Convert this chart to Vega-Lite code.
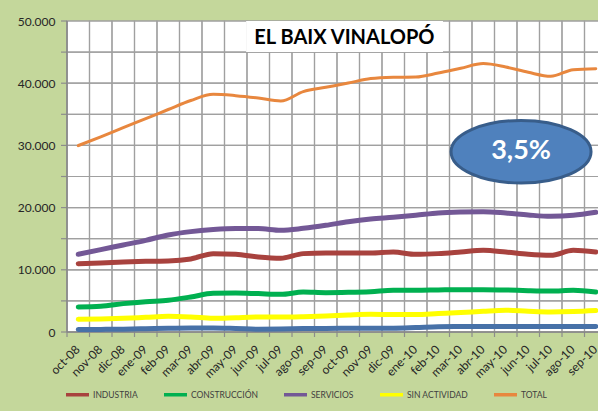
{
  "$schema": "https://vega.github.io/schema/vega-lite/v6.json",
  "autosize": {"type": "none"},
  "width": 531,
  "height": 311,
  "padding": {"left": 67, "top": 21, "right": 0, "bottom": 79},
  "background": "#c4d79b",
  "config": {
    "view": {"fill": "#ffffff", "stroke": null}
  },
  "datasets": {
    "empleo": [
      {"mes":"oct-08","serie":"TOTAL","valor":29970},{"mes":"nov-08","serie":"TOTAL","valor":31380},{"mes":"dic-08","serie":"TOTAL","valor":32860},{"mes":"ene-09","serie":"TOTAL","valor":34300},{"mes":"feb-09","serie":"TOTAL","valor":35770},{"mes":"mar-09","serie":"TOTAL","valor":37220},{"mes":"abr-09","serie":"TOTAL","valor":38220},{"mes":"may-09","serie":"TOTAL","valor":38000},{"mes":"jun-09","serie":"TOTAL","valor":37620},{"mes":"jul-09","serie":"TOTAL","valor":37140},{"mes":"ago-09","serie":"TOTAL","valor":38650},{"mes":"sep-09","serie":"TOTAL","valor":39340},{"mes":"oct-09","serie":"TOTAL","valor":40030},{"mes":"nov-09","serie":"TOTAL","valor":40740},{"mes":"dic-09","serie":"TOTAL","valor":40950},{"mes":"ene-10","serie":"TOTAL","valor":41000},{"mes":"feb-10","serie":"TOTAL","valor":41640},{"mes":"mar-10","serie":"TOTAL","valor":42400},{"mes":"abr-10","serie":"TOTAL","valor":43150},{"mes":"may-10","serie":"TOTAL","valor":42600},{"mes":"jun-10","serie":"TOTAL","valor":41750},{"mes":"jul-10","serie":"TOTAL","valor":41110},{"mes":"ago-10","serie":"TOTAL","valor":42180},{"mes":"sep-10","serie":"TOTAL","valor":42340},
      {"mes":"oct-08","serie":"SERVICIOS","valor":12490},{"mes":"nov-08","serie":"SERVICIOS","valor":13250},{"mes":"dic-08","serie":"SERVICIOS","valor":13990},{"mes":"ene-09","serie":"SERVICIOS","valor":14740},{"mes":"feb-09","serie":"SERVICIOS","valor":15600},{"mes":"mar-09","serie":"SERVICIOS","valor":16140},{"mes":"abr-09","serie":"SERVICIOS","valor":16460},{"mes":"may-09","serie":"SERVICIOS","valor":16620},{"mes":"jun-09","serie":"SERVICIOS","valor":16620},{"mes":"jul-09","serie":"SERVICIOS","valor":16350},{"mes":"ago-09","serie":"SERVICIOS","valor":16670},{"mes":"sep-09","serie":"SERVICIOS","valor":17150},{"mes":"oct-09","serie":"SERVICIOS","valor":17740},{"mes":"nov-09","serie":"SERVICIOS","valor":18170},{"mes":"dic-09","serie":"SERVICIOS","valor":18440},{"mes":"ene-10","serie":"SERVICIOS","valor":18760},{"mes":"feb-10","serie":"SERVICIOS","valor":19130},{"mes":"mar-10","serie":"SERVICIOS","valor":19290},{"mes":"abr-10","serie":"SERVICIOS","valor":19350},{"mes":"may-10","serie":"SERVICIOS","valor":19130},{"mes":"jun-10","serie":"SERVICIOS","valor":18810},{"mes":"jul-10","serie":"SERVICIOS","valor":18600},{"mes":"ago-10","serie":"SERVICIOS","valor":18760},{"mes":"sep-10","serie":"SERVICIOS","valor":19240},
      {"mes":"oct-08","serie":"INDUSTRIA","valor":10990},{"mes":"nov-08","serie":"INDUSTRIA","valor":11100},{"mes":"dic-08","serie":"INDUSTRIA","valor":11260},{"mes":"ene-09","serie":"INDUSTRIA","valor":11370},{"mes":"feb-09","serie":"INDUSTRIA","valor":11420},{"mes":"mar-09","serie":"INDUSTRIA","valor":11740},{"mes":"abr-09","serie":"INDUSTRIA","valor":12600},{"mes":"may-09","serie":"INDUSTRIA","valor":12490},{"mes":"jun-09","serie":"INDUSTRIA","valor":12060},{"mes":"jul-09","serie":"INDUSTRIA","valor":11850},{"mes":"ago-09","serie":"INDUSTRIA","valor":12600},{"mes":"sep-09","serie":"INDUSTRIA","valor":12700},{"mes":"oct-09","serie":"INDUSTRIA","valor":12700},{"mes":"nov-09","serie":"INDUSTRIA","valor":12700},{"mes":"dic-09","serie":"INDUSTRIA","valor":12860},{"mes":"ene-10","serie":"INDUSTRIA","valor":12490},{"mes":"feb-10","serie":"INDUSTRIA","valor":12600},{"mes":"mar-10","serie":"INDUSTRIA","valor":12860},{"mes":"abr-10","serie":"INDUSTRIA","valor":13140},{"mes":"may-10","serie":"INDUSTRIA","valor":12860},{"mes":"jun-10","serie":"INDUSTRIA","valor":12490},{"mes":"jul-10","serie":"INDUSTRIA","valor":12330},{"mes":"ago-10","serie":"INDUSTRIA","valor":13140},{"mes":"sep-10","serie":"INDUSTRIA","valor":12860},
      {"mes":"oct-08","serie":"CONSTRUCCIÓN","valor":4020},{"mes":"nov-08","serie":"CONSTRUCCIÓN","valor":4130},{"mes":"dic-08","serie":"CONSTRUCCIÓN","valor":4560},{"mes":"ene-09","serie":"CONSTRUCCIÓN","valor":4880},{"mes":"feb-09","serie":"CONSTRUCCIÓN","valor":5100},{"mes":"mar-09","serie":"CONSTRUCCIÓN","valor":5630},{"mes":"abr-09","serie":"CONSTRUCCIÓN","valor":6220},{"mes":"may-09","serie":"CONSTRUCCIÓN","valor":6270},{"mes":"jun-09","serie":"CONSTRUCCIÓN","valor":6170},{"mes":"jul-09","serie":"CONSTRUCCIÓN","valor":6060},{"mes":"ago-09","serie":"CONSTRUCCIÓN","valor":6430},{"mes":"sep-09","serie":"CONSTRUCCIÓN","valor":6330},{"mes":"oct-09","serie":"CONSTRUCCIÓN","valor":6380},{"mes":"nov-09","serie":"CONSTRUCCIÓN","valor":6490},{"mes":"dic-09","serie":"CONSTRUCCIÓN","valor":6700},{"mes":"ene-10","serie":"CONSTRUCCIÓN","valor":6700},{"mes":"feb-10","serie":"CONSTRUCCIÓN","valor":6760},{"mes":"mar-10","serie":"CONSTRUCCIÓN","valor":6810},{"mes":"abr-10","serie":"CONSTRUCCIÓN","valor":6810},{"mes":"may-10","serie":"CONSTRUCCIÓN","valor":6760},{"mes":"jun-10","serie":"CONSTRUCCIÓN","valor":6650},{"mes":"jul-10","serie":"CONSTRUCCIÓN","valor":6590},{"mes":"ago-10","serie":"CONSTRUCCIÓN","valor":6700},{"mes":"sep-10","serie":"CONSTRUCCIÓN","valor":6430},
      {"mes":"oct-08","serie":"SIN ACTIVIDAD","valor":2040},{"mes":"nov-08","serie":"SIN ACTIVIDAD","valor":2090},{"mes":"dic-08","serie":"SIN ACTIVIDAD","valor":2200},{"mes":"ene-09","serie":"SIN ACTIVIDAD","valor":2360},{"mes":"feb-09","serie":"SIN ACTIVIDAD","valor":2520},{"mes":"mar-09","serie":"SIN ACTIVIDAD","valor":2410},{"mes":"abr-09","serie":"SIN ACTIVIDAD","valor":2200},{"mes":"may-09","serie":"SIN ACTIVIDAD","valor":2310},{"mes":"jun-09","serie":"SIN ACTIVIDAD","valor":2410},{"mes":"jul-09","serie":"SIN ACTIVIDAD","valor":2410},{"mes":"ago-09","serie":"SIN ACTIVIDAD","valor":2470},{"mes":"sep-09","serie":"SIN ACTIVIDAD","valor":2580},{"mes":"oct-09","serie":"SIN ACTIVIDAD","valor":2740},{"mes":"nov-09","serie":"SIN ACTIVIDAD","valor":2850},{"mes":"dic-09","serie":"SIN ACTIVIDAD","valor":2800},{"mes":"ene-10","serie":"SIN ACTIVIDAD","valor":2800},{"mes":"feb-10","serie":"SIN ACTIVIDAD","valor":2960},{"mes":"mar-10","serie":"SIN ACTIVIDAD","valor":3120},{"mes":"abr-10","serie":"SIN ACTIVIDAD","valor":3330},{"mes":"may-10","serie":"SIN ACTIVIDAD","valor":3490},{"mes":"jun-10","serie":"SIN ACTIVIDAD","valor":3330},{"mes":"jul-10","serie":"SIN ACTIVIDAD","valor":3220},{"mes":"ago-10","serie":"SIN ACTIVIDAD","valor":3280},{"mes":"sep-10","serie":"SIN ACTIVIDAD","valor":3440},
      {"mes":"oct-08","serie":"AGRICULTURA","valor":400},{"mes":"nov-08","serie":"AGRICULTURA","valor":420},{"mes":"dic-08","serie":"AGRICULTURA","valor":450},{"mes":"ene-09","serie":"AGRICULTURA","valor":520},{"mes":"feb-09","serie":"AGRICULTURA","valor":600},{"mes":"mar-09","serie":"AGRICULTURA","valor":640},{"mes":"abr-09","serie":"AGRICULTURA","valor":640},{"mes":"may-09","serie":"AGRICULTURA","valor":560},{"mes":"jun-09","serie":"AGRICULTURA","valor":450},{"mes":"jul-09","serie":"AGRICULTURA","valor":480},{"mes":"ago-09","serie":"AGRICULTURA","valor":550},{"mes":"sep-09","serie":"AGRICULTURA","valor":580},{"mes":"oct-09","serie":"AGRICULTURA","valor":600},{"mes":"nov-09","serie":"AGRICULTURA","valor":620},{"mes":"dic-09","serie":"AGRICULTURA","valor":620},{"mes":"ene-10","serie":"AGRICULTURA","valor":720},{"mes":"feb-10","serie":"AGRICULTURA","valor":850},{"mes":"mar-10","serie":"AGRICULTURA","valor":880},{"mes":"abr-10","serie":"AGRICULTURA","valor":900},{"mes":"may-10","serie":"AGRICULTURA","valor":900},{"mes":"jun-10","serie":"AGRICULTURA","valor":900},{"mes":"jul-10","serie":"AGRICULTURA","valor":880},{"mes":"ago-10","serie":"AGRICULTURA","valor":880},{"mes":"sep-10","serie":"AGRICULTURA","valor":900}
    ],
    "niveles": [{"v":0},{"v":5000},{"v":10000},{"v":15000},{"v":20000},{"v":25000},{"v":30000},{"v":35000},{"v":40000},{"v":45000},{"v":50000}],
    "franjas": [{"desde":0,"hasta":5000},{"desde":5000,"hasta":10000},{"desde":10000,"hasta":15000},{"desde":15000,"hasta":20000},{"desde":20000,"hasta":25000},{"desde":25000,"hasta":30000},{"desde":30000,"hasta":35000},{"desde":35000,"hasta":40000},{"desde":40000,"hasta":45000},{"desde":45000,"hasta":50000}],
    "uno": [{"anotacion": "EL BAIX VINALOPÓ"}]
  },
  "layer": [
    {
      "data": {"name": "franjas"},
      "mark": {"type": "rect", "fill": "#ffffff", "fillOpacity": 0, "stroke": "#a0a0a0", "strokeWidth": 1.2, "strokeOpacity": 1},
      "encoding": {
        "x": {"datum": 0, "type": "quantitative", "scale": {"domain": [0, 24], "range": [0, 540]}, "axis": null},
        "x2": {"datum": 24},
        "y": {"field": "desde", "type": "quantitative"},
        "y2": {"field": "hasta"}
      }
    },
    {
      "data": {"name": "empleo"},
      "transform": [{"filter": "datum.serie == 'TOTAL'"}],
      "layer": [
        {
          "mark": {"type": "rect", "fill": "#ffffff", "fillOpacity": 0, "stroke": "#a0a0a0", "strokeWidth": 1.2, "strokeOpacity": 1},
          "encoding": {
            "x": {"field": "mes", "type": "ordinal", "sort": null, "scale": {"range": [0, 540], "paddingInner": 0, "paddingOuter": 0}, "axis": null},
            "y": {"datum": 0, "type": "quantitative"},
            "y2": {"datum": 50000}
          }
        },
        {
          "mark": {"type": "tick", "orient": "vertical", "color": "#8c8c8c", "opacity": 1, "thickness": 1.2, "size": 5},
          "encoding": {
            "x": {"field": "mes", "type": "ordinal", "sort": null, "bandPosition": 0, "scale": {"range": [0, 540], "paddingInner": 0, "paddingOuter": 0}, "axis": null},
            "y": {"datum": -400, "type": "quantitative"}
          }
        }
      ]
    },
    {
      "data": {"name": "niveles"},
      "mark": {"type": "tick", "orient": "horizontal", "color": "#8c8c8c", "opacity": 1, "thickness": 1.2, "size": 6},
      "encoding": {
        "y": {"field": "v", "type": "quantitative"},
        "x": {"datum": -0.133, "type": "quantitative", "scale": {"domain": [0, 24], "range": [0, 540]}, "axis": null}
      }
    },
    {
      "data": {"name": "uno"},
      "layer": [
        {
          "mark": {"type": "tick", "orient": "vertical", "color": "#868686", "opacity": 1, "thickness": 1.4, "size": 311},
          "encoding": {
            "x": {"datum": 0, "type": "quantitative", "scale": {"domain": [0, 24], "range": [0, 540]}, "axis": null},
            "y": {"datum": 25000, "type": "quantitative"}
          }
        },
        {
          "mark": {"type": "tick", "orient": "horizontal", "color": "#868686", "opacity": 1, "thickness": 1.4, "size": 540},
          "encoding": {
            "x": {"datum": 12, "type": "quantitative", "scale": {"domain": [0, 24], "range": [0, 540]}, "axis": null},
            "y": {"datum": 0, "type": "quantitative"}
          }
        }
      ]
    },
    {
      "data": {"name": "empleo"},
      "transform": [{"filter": "datum.serie != 'TOTAL'"}],
      "mark": {"type": "line", "interpolate": "monotone", "strokeCap": "round", "strokeJoin": "round", "strokeWidth": 5},
      "encoding": {
        "x": {
          "field": "mes", "type": "ordinal", "sort": null, "title": null,
          "scale": {"range": [0, 540], "paddingInner": 0, "paddingOuter": 0},
          "axis": {"tickBand": "extent", "grid": false, "domain": false, "ticks": true, "tickOpacity": 0, "labelFont": "Lato", "labelColor": "#262626", "labelAngle": -45, "labelAlign": "right", "labelBaseline": "middle", "labelFontSize": 12, "labelPadding": 10, "labelOffset": -1, "tickSize": 5}
        },
        "y": {
          "field": "valor", "type": "quantitative", "title": null,
          "scale": {"domain": [0, 50000], "nice": false},
          "axis": {"grid": false, "domain": false, "ticks": true, "tickOpacity": 0, "labelFont": "Lato", "labelColor": "#262626", "values": [0,5000,10000,15000,20000,25000,30000,35000,40000,45000,50000], "labelExpr": "replace(format(datum.value, ','), ',', '.')", "labelFontSize": 12, "tickSize": 6, "labelPadding": 6}
        },
        "color": {
          "field": "serie", "type": "nominal",
          "scale": {"domain": ["INDUSTRIA","CONSTRUCCIÓN","SERVICIOS","SIN ACTIVIDAD","TOTAL","AGRICULTURA"], "range": ["#a8423e","#00b050","#735896","#ffff00","#e8873e","#4771a8"]},
          "legend": {"values": ["INDUSTRIA","CONSTRUCCIÓN","SERVICIOS","SIN ACTIVIDAD","TOTAL"], "orient": "none", "legendX": -3, "legendY": 360, "direction": "horizontal", "columns": 5, "title": null, "symbolType": "stroke", "symbolSize": 529, "symbolStrokeWidth": 3.5, "labelFont": "Lato", "labelFontSize": 8.5, "labelColor": "#404040", "labelOffset": 2, "columnPadding": 19, "padding": 0}
        }
      }
    },
    {
      "data": {"name": "empleo"},
      "transform": [{"filter": "datum.serie == 'TOTAL'"}],
      "mark": {"type": "line", "interpolate": "monotone", "strokeCap": "round", "strokeJoin": "round", "strokeWidth": 3},
      "encoding": {
        "x": {"field": "mes", "type": "ordinal", "sort": null, "scale": {"range": [0, 540], "paddingInner": 0, "paddingOuter": 0}, "axis": null},
        "y": {"field": "valor", "type": "quantitative"},
        "color": {"field": "serie", "type": "nominal"}
      }
    },
    {
      "data": {"name": "uno"},
      "layer": [
        {
          "mark": {"type": "rect", "fill": "#ffffff"},
          "encoding": {
            "x": {"datum": 7.96, "type": "quantitative", "scale": {"domain": [0, 24], "range": [0, 540]}, "axis": null},
            "x2": {"datum": 16.71},
            "y": {"datum": 45000, "type": "quantitative"},
            "y2": {"datum": 50000}
          }
        },
        {
          "mark": {"type": "text", "font": "Lato", "fontSize": 20, "fontWeight": "bold", "color": "#000000", "align": "center", "baseline": "middle"},
          "encoding": {
            "text": {"field": "anotacion"},
            "x": {"datum": 12.33, "type": "quantitative", "scale": {"domain": [0, 24], "range": [0, 540]}, "axis": null},
            "y": {"datum": 47220, "type": "quantitative"}
          }
        },
        {
          "mark": {"type": "point", "shape": "M -1 0 A 1 0.447 0 1 1 1 0 A 1 0.447 0 1 1 -1 0 Z", "size": 19600, "filled": true, "fill": "#4f81bd", "stroke": "#385d8a", "strokeWidth": 3, "opacity": 1, "fillOpacity": 1, "strokeOpacity": 1},
          "encoding": {
            "x": {"datum": 20.18, "type": "quantitative", "scale": {"domain": [0, 24], "range": [0, 540]}, "axis": null},
            "y": {"datum": 28970, "type": "quantitative"}
          }
        },
        {
          "mark": {"type": "text", "text": "3,5%", "font": "Lato", "fontSize": 27, "fontWeight": "bold", "color": "#ffffff", "align": "center", "baseline": "middle"},
          "encoding": {
            "x": {"datum": 20.18, "type": "quantitative", "scale": {"domain": [0, 24], "range": [0, 540]}, "axis": null},
            "y": {"datum": 29050, "type": "quantitative"}
          }
        }
      ]
    }
  ],
  "resolve": {"scale": {"x": "independent"}}
}
